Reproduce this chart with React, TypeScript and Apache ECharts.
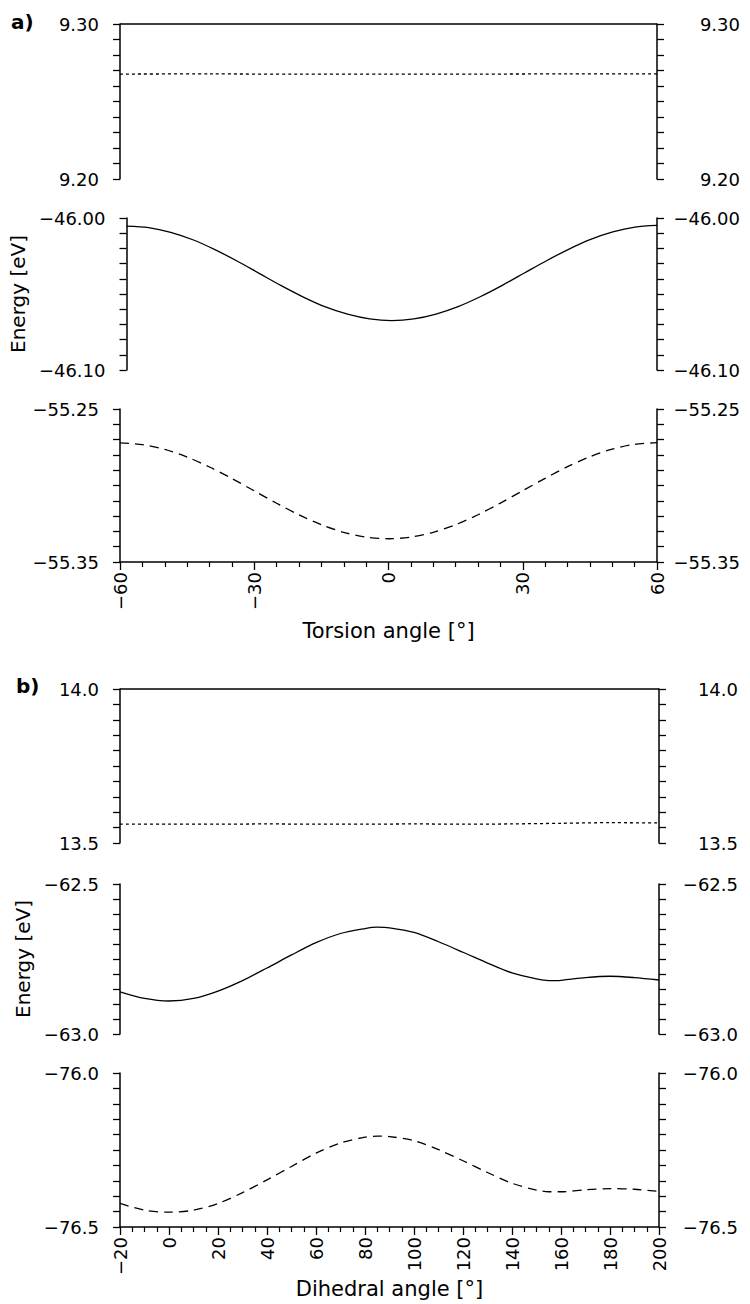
import React, { useEffect, useRef } from "react";
import * as echarts from "echarts";

// ---------- data ----------
const torsionAngles = [-60, -55, -50, -45, -40, -35, -30, -25, -20, -15, -10, -5, 0, 5, 10, 15, 20, 25, 30, 35, 40, 45, 50, 55, 60];
const torsionFlatAngles = [-60, -40, -20, 0, 20, 40, 60];

const aTopSolid = [9.3, 9.3, 9.3, 9.3, 9.3, 9.3, 9.3];
const aTopDotted = [9.2677, 9.2678, 9.2676, 9.2677, 9.2677, 9.2678, 9.2678];
const aMidSolid = [-46.0053, -46.0063, -46.0094, -46.0143, -46.0208, -46.0283, -46.0364, -46.0445, -46.052, -46.0585, -46.0633, -46.0664, -46.0675, -46.0664, -46.0632, -46.0583, -46.0518, -46.0443, -46.0362, -46.0281, -46.0206, -46.0141, -46.0092, -46.006, -46.0049];
const aLowDashed = [-55.2722, -55.2733, -55.2764, -55.2814, -55.2879, -55.2954, -55.3035, -55.3116, -55.3192, -55.3256, -55.3306, -55.3337, -55.3348, -55.3337, -55.3306, -55.3256, -55.3191, -55.3115, -55.3034, -55.2953, -55.2877, -55.2812, -55.2762, -55.2731, -55.272];

const dihedralAngles = [-20, -10, 0, 10, 20, 30, 40, 50, 60, 70, 80, 85, 90, 100, 110, 120, 130, 140, 150, 155, 160, 170, 180, 190, 200];
const dihedralFlatAngles = [-20, 0, 20, 40, 60, 80, 100, 120, 140, 160, 180, 200];

const bTopSolid = [14.0, 14.0, 14.0, 14.0, 14.0, 14.0, 14.0, 14.0, 14.0, 14.0, 14.0, 14.0];
const bTopDotted = [13.561, 13.561, 13.561, 13.562, 13.561, 13.561, 13.562, 13.561, 13.562, 13.564, 13.566, 13.565];
const bMidSolid = [-62.8595, -62.8815, -62.89, -62.8815, -62.857, -62.822, -62.78, -62.7365, -62.6955, -62.665, -62.6485, -62.644, -62.646, -62.6615, -62.6925, -62.7275, -62.7635, -62.7965, -62.8165, -62.822, -62.821, -62.812, -62.8075, -62.812, -62.82];
const bLowDashed = [-76.4235, -76.4455, -76.452, -76.4455, -76.4235, -76.3885, -76.347, -76.3035, -76.26, -76.227, -76.2085, -76.205, -76.2065, -76.2195, -76.249, -76.285, -76.323, -76.358, -76.38, -76.3855, -76.3855, -76.379, -76.3755, -76.3775, -76.3845];

// ---------- helpers ----------
const FONT = "DejaVu Sans";
const BLACK = "#000";
const LABEL_SIZE = 18;

const fmtNum = (v: number, d: number) => {
  const s = Math.abs(v).toFixed(d);
  return v < -1e-9 ? "\u2212" + s : s;
};

const zip = (xs: number[], ys: number[]) => xs.map((x, i) => [x, ys[i]]);

function yPair(gridIndex: number, min: number, max: number, interval: number, digits: number, rightMargin: number, name?: string, nameGap?: number) {
  const formatter = (v: number) =>
    Math.abs(v - min) < interval / 100 || Math.abs(v - max) < interval / 100 ? fmtNum(v, digits) : "";
  const common = {
    type: "value",
    gridIndex,
    min,
    max,
    interval,
    axisLine: { show: true, onZero: false, lineStyle: { color: BLACK, width: 1.5 } },
    axisTick: { show: true, inside: false, length: 7, lineStyle: { color: BLACK, width: 1.3 } },
    splitLine: { show: false },
  };
  const left: any = {
    ...common,
    position: "left",
    axisLabel: { show: true, margin: 21, fontSize: LABEL_SIZE, color: BLACK, fontFamily: FONT, formatter },
  };
  if (name) {
    left.name = name;
    left.nameLocation = "middle";
    left.nameGap = nameGap;
    left.nameTextStyle = { fontSize: 20, color: BLACK, fontFamily: FONT };
  }
  const right: any = {
    ...common,
    position: "right",
    axisLabel: { show: true, margin: rightMargin, align: "right", fontSize: LABEL_SIZE, color: BLACK, fontFamily: FONT, formatter },
  };
  return [left, right];
}

function hiddenX(gridIndex: number, min: number, max: number) {
  return { type: "value", gridIndex, min, max, show: false };
}

function shownX(gridIndex: number, min: number, max: number, interval: number, minorSplit: number, name: string, nameGap: number) {
  return {
    type: "value",
    gridIndex,
    min,
    max,
    interval,
    position: "bottom",
    axisLine: { show: true, onZero: false, lineStyle: { color: BLACK, width: 1.5 } },
    axisTick: { show: true, length: 8, lineStyle: { color: BLACK, width: 1.3 } },
    minorTick: { show: true, splitNumber: minorSplit, length: 5, lineStyle: { color: BLACK, width: 1.2 } },
    axisLabel: { rotate: 90, margin: 10, fontSize: LABEL_SIZE, color: BLACK, fontFamily: FONT, formatter: (v: number) => fmtNum(v, 0) },
    splitLine: { show: false },
    minorSplitLine: { show: false },
    name,
    nameLocation: "middle",
    nameGap,
    nameTextStyle: { fontSize: 21, color: BLACK, fontFamily: FONT },
  };
}

function lineSeries(idx: number, data: number[][], type: any, width = 1.3) {
  return {
    type: "line",
    xAxisIndex: idx,
    yAxisIndex: idx * 2,
    data,
    symbol: "none",
    showSymbol: false,
    smooth: 0.3,
    clip: false,
    silent: true,
    lineStyle: { color: BLACK, width, type },
  };
}

export default function App() {
  const ref = useRef<HTMLDivElement>(null);

  useEffect(() => {
    if (!ref.current) return;
    const chart = echarts.init(ref.current, undefined, { renderer: "svg" });

    const grids = [
      { left: 120, right: 93, top: 24, height: 155 },
      { left: 120, right: 93, top: 218, height: 152 },
      { left: 120, right: 93, top: 409, height: 153 },
      { left: 120, right: 91, top: 689, height: 154 },
      { left: 120, right: 91, top: 884, height: 150 },
      { left: 120, right: 91, top: 1073, height: 154 },
    ];

    const option: any = {
      animation: false,
      textStyle: { fontFamily: FONT },
      grid: grids,
      xAxis: [
        hiddenX(0, -60, 60),
        hiddenX(1, -60, 60),
        shownX(2, -60, 60, 30, 6, "Torsion angle [°]", 58),
        hiddenX(3, -20, 200),
        hiddenX(4, -20, 200),
        shownX(5, -20, 200, 20, 4, "Dihedral angle [°]", 51),
      ],
      yAxis: [
        ...yPair(0, 9.2, 9.3, 0.01, 2, 83),
        ...yPair(1, -46.1, -46.0, 0.01, 2, 83, "Energy [eV]", 93),
        ...yPair(2, -55.35, -55.25, 0.01, 2, 83),
        ...yPair(3, 13.5, 14.0, 0.05, 1, 79),
        ...yPair(4, -63.0, -62.5, 0.05, 1, 79, "Energy [eV]", 77),
        ...yPair(5, -76.5, -76.0, 0.05, 1, 79),
      ],
      series: [
        lineSeries(0, zip(torsionFlatAngles, aTopSolid), "solid", 1.4),
        lineSeries(0, zip(torsionFlatAngles, aTopDotted), [3, 3], 1.3),
        lineSeries(1, zip(torsionAngles, aMidSolid), "solid", 1.3),
        lineSeries(2, zip(torsionAngles, aLowDashed), [9, 6], 1.3),
        lineSeries(3, zip(dihedralFlatAngles, bTopSolid), "solid", 1.4),
        lineSeries(3, zip(dihedralFlatAngles, bTopDotted), [3, 3], 1.3),
        lineSeries(4, zip(dihedralAngles, bMidSolid), "solid", 1.3),
        lineSeries(5, zip(dihedralAngles, bLowDashed), [9, 6], 1.3),
      ],
      graphic: [
        { type: "text", left: 11, top: 12, style: { text: "a)", font: `bold 20px "${FONT}"`, fill: BLACK } },
        { type: "text", left: 16, top: 676, style: { text: "b)", font: `bold 20px "${FONT}"`, fill: BLACK } },
      ],
    };

    chart.setOption(option);
    return () => chart.dispose();
  }, []);

  return (
    <div
      ref={ref}
      style={{ position: "absolute", left: 0, top: 0, width: 750, height: 1304, background: "#fff" }}
    />
  );
}
